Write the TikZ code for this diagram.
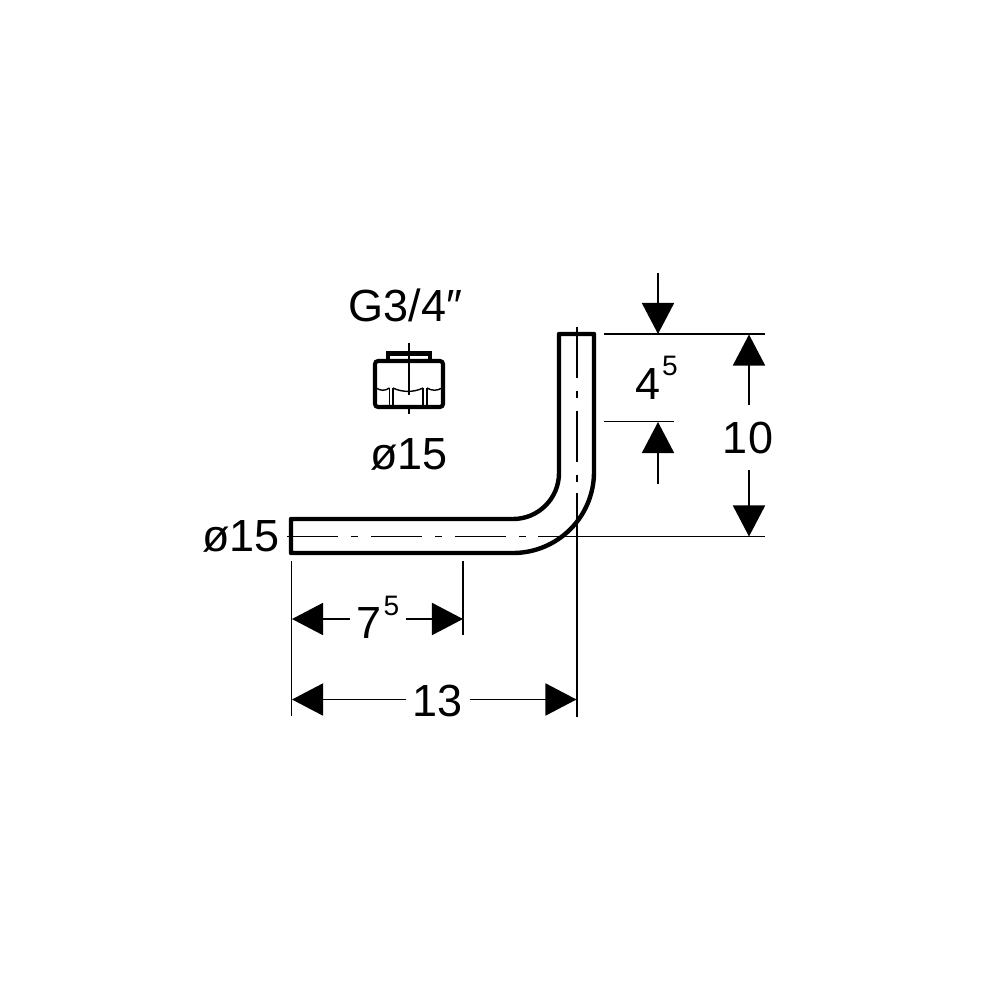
\documentclass[tikz,border=0pt]{standalone}
\usepackage{fontspec}
\setmainfont{Liberation Sans}
\usetikzlibrary{arrows.meta, calc}
\newcommand{\suptext}[1]{\hspace{.02cm}\raisebox{.98ex}{\fontsize{8pt}{9pt}\selectfont #1}}
\tikzset{
  pipeline/.style={line width=1.25pt, line join=round},
  fitline/.style={line width=1.15pt},
  threadline/.style={line width=.4pt},
  dimline/.style={line width=.5pt},
  dimarrow/.style={line width=.5pt, -{Triangle[length=.31cm, width=.32cm]}},
  centerline/.style={line width=.55pt, dash pattern=on .51cm off .13cm on .07cm off .13cm},
  dimtext/.style={font=\fontsize{12.8pt}{15pt}\selectfont, anchor=base, inner xsep=.06cm, inner ysep=.16cm},
}
\begin{document}
\begin{tikzpicture}[x=.01cm, y=-.01cm]
            \useasboundingbox (0,0) rectangle (1000,1000);
            % pipe
            \coordinate (P1) at (291,519);
            \coordinate (P2) at (513,519);
            \coordinate (P3) at (559,334);
            \coordinate (P4) at (594,334);
            \coordinate (P5) at (594,472);
            \coordinate (P6) at (291,553);
            \draw[pipeline] (P1) -- (P2) arc[start angle=90, end angle=0, radius=46] -- (P3) -- (P4) -- (P5)
                arc[start angle=0, end angle=90, radius=81] -- (P6) -- cycle;
            % center lines
            \coordinate (H1) at (287,536.5);
            \coordinate (H2) at (534,536.5);
            \coordinate (H3) at (538,536.5);
            \coordinate (H4) at (765,536.5);
            \coordinate (V1) at (577,327);
            \coordinate (V2) at (577,490);
            \coordinate (V3) at (577,493);
            \coordinate (V4) at (577,717);
            \draw[centerline] (H1) -- (H2);
            \draw[dimline] (H3) -- (H4);
            \draw[centerline] (V1) -- (V2);
            \draw[dimline] (V3) -- (V4);
            % fitting
            \coordinate (F1) at (375,361);
            \coordinate (F2) at (443,407);
            \coordinate (C1) at (388,361);
            \coordinate (C2) at (388,353.5);
            \coordinate (C3) at (430,353.5);
            \coordinate (C4) at (430,361);
            \draw[fitline] (F1) [rounded corners=.03cm] rectangle (F2);
            \draw[fitline] (C1) -- (C2) -- (C3) -- (C4);
            \coordinate (A1) at (409,343);
            \coordinate (A2) at (409,395);
            \coordinate (A3) at (409,408);
            \coordinate (A4) at (409,414);
            \draw[dimline] (A1) -- (A2);
            \draw[dimline] (A3) -- (A4);
            \coordinate (T1) at (376,388);
            \coordinate (T2) at (389.5,388);
            \coordinate (T3) at (393,388);
            \coordinate (T4) at (423,388);
            \coordinate (T5) at (427,388);
            \coordinate (T6) at (442,388);
            \draw[threadline] (T1) .. controls (381,391) and (385,391) .. (T2);
            \draw[threadline] (T3) .. controls (402,392.5) and (414,392.5) .. (T4);
            \draw[threadline] (T5) .. controls (432,391) and (437,391) .. (T6);
            \foreach \t in {T2,T3,T4,T5} {
                \draw[threadline] (\t) -- ($(\t)+(0,18)$);
            }
            % witness lines
            \coordinate (W1) at (291.5,561);
            \coordinate (W2) at (291.5,716);
            \coordinate (W3) at (463,561);
            \coordinate (W4) at (463,635);
            \coordinate (W5) at (604,334);
            \coordinate (W6) at (765,334);
            \coordinate (W7) at (604,421.5);
            \coordinate (W8) at (674,421.5);
            \draw[dimline] (W1) -- (W2);
            \draw[dimline] (W3) -- (W4);
            \draw[dimline] (W5) -- (W6);
            \draw[dimline] (W7) -- (W8);
            % labels
            \node[dimtext] (thread) at (405.5,321) {G3/4″};
            \node[dimtext] (dia1) at (409,469) {ø15};
            \node[dimtext] (dia2) at (241,551) {ø15};
            \node[dimtext] (len1) at (378,638.5) {7\suptext{5}};
            \node[dimtext] (len2) at (438,716) {13};
            \node[dimtext] (hgt1) at (656.5,399) {4\suptext{5}};
            \node[dimtext] (hgt2) at (748,453) {10};
            % dimension arrows
            \coordinate (D1) at (292,619);
            \coordinate (D2) at (463,619);
            \coordinate (D3) at (292,699.5);
            \coordinate (D4) at (576.5,699.5);
            \coordinate (D5) at (658,273);
            \coordinate (D6) at (658,334);
            \coordinate (D7) at (658,484);
            \coordinate (D8) at (658,422);
            \coordinate (D9) at (749,334.5);
            \coordinate (D10) at (749,536.5);
            \draw[dimarrow] (len1.west |- D1) -- (D1);
            \draw[dimarrow] (len1.east |- D2) -- (D2);
            \draw[dimarrow] (len2.west |- D3) -- (D3);
            \draw[dimarrow] (len2.east |- D4) -- (D4);
            \draw[dimarrow] (D5) -- (D6);
            \draw[dimarrow] (D7) -- (D8);
            \draw[dimarrow] (hgt2.north -| D9) -- (D9);
            \draw[dimarrow] (hgt2.south -| D10) -- (D10);
        \end{tikzpicture}
\end{document}
